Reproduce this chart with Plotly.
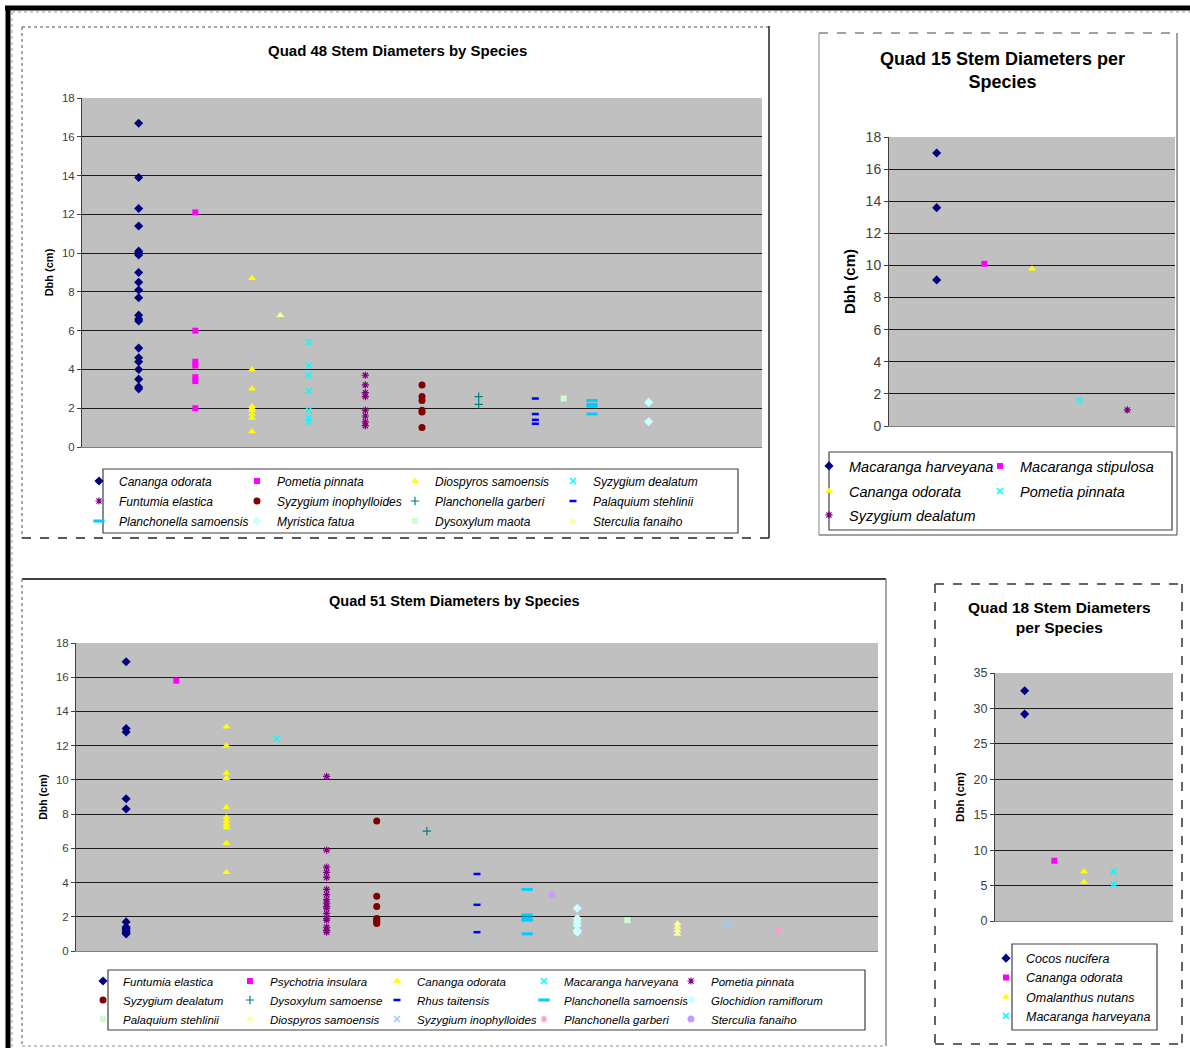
import plotly.graph_objects as go

W, H = 1190, 1048
FONT = "Liberation Sans, Arial, sans-serif"

# ---------------- data ----------------
# Quad 48
q48_species = ["Cananga odorata", "Pometia pinnata", "Diospyros samoensis", "Syzygium dealatum",
               "Funtumia elastica", "Syzygium inophylloides", "Planchonella garberi", "Palaquium stehlinii",
               "Planchonella samoensis", "Myristica fatua", "Dysoxylum maota", "Sterculia fanaiho"]
q48_x = [1, 2, 3, 4, 5, 6, 7, 8, 9, 10, 8.5, 3.5]
q48_dbh = [
    [16.7, 13.9, 12.3, 11.4, 10.1, 10.0, 9.9, 9.0, 8.5, 8.1, 7.7, 6.8, 6.6, 6.5, 5.1, 4.6, 4.4, 4.0, 3.5, 3.1, 3.0],
    [12.1, 6.0, 4.4, 4.2, 3.6, 3.4, 2.0],
    [8.7, 4.0, 3.0, 2.1, 2.0, 1.9, 1.7, 1.5, 0.8],
    [5.4, 4.2, 3.7, 2.9, 1.9, 1.5, 1.3],
    [3.7, 3.2, 2.8, 2.6, 1.9, 1.6, 1.3, 1.1],
    [3.2, 2.6, 2.4, 1.9, 1.8, 1.0],
    [2.6, 2.2],
    [2.5, 1.7, 1.4, 1.2],
    [2.4, 2.2, 2.1, 1.7],
    [2.3, 1.3],
    [2.5],
    [6.8],
]

# Quad 15
q15_species = ["Macaranga harveyana", "Macaranga stipulosa", "Cananga odorata", "Pometia pinnata",
               "Syzygium dealatum"]
q15_x = [1, 2, 3, 4, 5]
q15_dbh = [[17.0, 13.6, 9.1], [10.1], [9.8], [1.6], [1.0]]

# Quad 51
q51_species = ["Funtumia elastica", "Psychotria insulara", "Cananga odorata", "Macaranga harveyana",
               "Pometia pinnata", "Syzygium dealatum", "Dysoxylum samoense", "Rhus taitensis",
               "Planchonella samoensis", "Glochidion ramiflorum", "Palaquium stehlinii", "Diospyros samoensis",
               "Syzygium inophylloides", "Planchonella garberi", "Sterculia fanaiho"]
q51_x = [1, 2, 3, 4, 5, 6, 7, 8, 9, 10, 11, 12, 13, 14, 9.5]
q51_dbh = [
    [16.9, 13.0, 12.8, 8.9, 8.3, 1.7, 1.4, 1.3, 1.2, 1.1, 1.0],
    [15.8],
    [13.1, 12.0, 10.4, 10.1, 8.4, 7.8, 7.6, 7.4, 7.2, 6.3, 4.6],
    [12.4],
    [10.2, 5.9, 4.9, 4.6, 4.3, 3.6, 3.3, 3.0, 2.8, 2.6, 2.5, 2.2, 1.9, 1.8, 1.4, 1.2, 1.1],
    [7.6, 3.2, 2.6, 1.9, 1.8, 1.7, 1.6],
    [7.0],
    [4.5, 2.7, 1.1],
    [3.6, 2.1, 1.9, 1.8, 1.0],
    [2.5, 1.9, 1.7, 1.5, 1.2, 1.1],
    [1.8],
    [1.6, 1.4, 1.2, 1.0],
    [1.6],
    [1.2],
    [3.3],
]

# Quad 18
q18_species = ["Cocos nucifera", "Cananga odorata", "Omalanthus nutans", "Macaranga harveyana"]
q18_x = [1, 2, 3, 4]
q18_dbh = [[32.5, 29.2], [8.5], [7.0, 5.5], [7.0, 5.2]]

# ---------------- styles (Excel default series order) ----------------
COLORS = ["#000080", "#FF00FF", "#FFFF00", "#00FFFF", "#800080", "#800000", "#008080", "#0000FF",
          "#00CCFF", "#CCFFFF", "#CCFFCC", "#FFFF99", "#99CCFF", "#FF99CC", "#CC99FF"]
SYMBOLS = ["diamond", "square", "triangle-up", "x-thin-open", "asterisk-open", "circle", "cross-thin-open",
           "line-ew-open", "line-ew-open", "diamond", "square", "triangle-up", "x-thin-open", "asterisk-open",
           "circle"]
SIZES = [7, 6, 7, 6, 6, 7, 6, 5, 8, 7, 6, 7, 6, 6, 7]
LWIDTH = [0, 0, 0, 1.5, 1.2, 0, 1.2, 2.5, 3, 0, 0, 0, 1.5, 1.2, 0]


def px(x):
    return x / W


def py(y):
    return 1 - y / H


fig = go.Figure()

# panel definitions: (axis suffix, plot rect px, xmax, ymax, dtick, species, xs, data, tick font, axis-title font)
panels = [
    ("", (82, 98, 762, 447), 12, 18, 2, q48_species, q48_x, q48_dbh, 11.5, 11),
    ("2", (889, 137, 1175, 426), 6, 18, 2, q15_species, q15_x, q15_dbh, 14, 15),
    ("3", (76, 643, 878, 951), 16, 18, 2, q51_species, q51_x, q51_dbh, 11.5, 10.5),
    ("4", (995, 673, 1173, 921), 6, 35, 5, q18_species, q18_x, q18_dbh, 12.5, 11.5),
]

legend_rows = [
    [("legend", [0, 1, 2, 3]), ("legend2", [4, 5, 6, 7]), ("legend3", [8, 9, 10, 11])],
    [("legend4", [0, 1]), ("legend5", [2, 3]), ("legend6", [4])],
    [("legend7", [0, 1, 2, 3, 4]), ("legend8", [5, 6, 7, 8, 9]), ("legend9", [10, 11, 12, 13, 14])],
    [("legend10", [0, 1, 2, 3])],
]

# legends: name -> (text-start x px, center y px, entrywidth, font size)
leg_specs = {
    "legend": (121, 481, 113, 12), "legend2": (121, 501, 113, 12), "legend3": (121, 521, 113, 12),
    "legend4": (851, 466, 126, 14.5), "legend5": (851, 491, 126, 14.5), "legend6": (851, 515, 126, 14.5),
    "legend7": (125, 981, 102, 11.5), "legend8": (125, 1000, 102, 11.5), "legend9": (125, 1019, 102, 11.5),
}

layout_axes = {}
for pi, (sfx, rect_, xmax, ymax, dtick, species, xs, data, tfs, afs) in enumerate(panels):
    x0, y0, x1, y1 = rect_
    xa = "x" + sfx
    ya = "y" + sfx
    leg_of = {}
    width_of = {}
    for lname, idxs in legend_rows[pi]:
        for k, i in enumerate(idxs):
            leg_of[i] = lname
            if lname in leg_specs:
                width_of[i] = leg_specs[lname][2] if k < len(idxs) - 1 else 170
    for i, name in enumerate(species):
        extra = {}
        if i in width_of:
            extra["legendwidth"] = width_of[i]
        fig.add_trace(go.Scatter(
            x=[xs[i]] * len(data[i]), y=data[i], mode="markers", name=name,
            xaxis=xa, yaxis=ya, legend=leg_of[i],
            marker=dict(symbol=SYMBOLS[i], color=COLORS[i], size=SIZES[i],
                        line=dict(width=LWIDTH[i], color=COLORS[i])),
            hoverinfo="x+y+name", **extra,
        ))
    layout_axes["xaxis" + sfx] = dict(
        domain=[px(x0), px(x1)], range=[0, xmax], anchor=ya, showticklabels=False,
        showgrid=False, zeroline=False, showline=True, linecolor="#808080", linewidth=1,
        ticks="", fixedrange=True, automargin=False)
    layout_axes["yaxis" + sfx] = dict(
        domain=[py(y1), py(y0)], range=[0, ymax], anchor=xa, dtick=dtick, tick0=0,
        showgrid=True, gridcolor="#1a1a1a", gridwidth=1, zeroline=False,
        showline=True, linecolor="#404040", linewidth=1, ticks="outside", ticklen=4,
        tickcolor="#404040", tickfont=dict(family=FONT, size=tfs, color="#404040"),
        title=dict(text="<b>Dbh (cm)</b>", font=dict(family=FONT, size=afs, color="#000000"), standoff=6),
        fixedrange=True, automargin=False)

for lname, (tx, cy, ew, fs) in leg_specs.items():
    layout_axes[lname] = dict(
        x=px(tx - 42), y=py(cy), xanchor="left", yanchor="middle", orientation="h",
        entrywidth=ew, entrywidthmode="pixels", bgcolor="rgba(0,0,0,0)", borderwidth=0,
        font=dict(family=FONT, size=fs, color="#000000", style="italic"),
        itemclick=False, itemdoubleclick=False, tracegroupgap=0)
layout_axes["legend10"] = dict(
    x=px(1028 - 42), y=py(987), xanchor="left", yanchor="middle", orientation="v",
    bgcolor="rgba(0,0,0,0)", borderwidth=0, tracegroupgap=0,
    font=dict(family=FONT, size=12.5, color="#000000", style="italic"),
    itemclick=False, itemdoubleclick=False)

# ---------------- frames & boxes ----------------
shapes = []


def line(x0, y0, x1, y1, color, width, dash="solid"):
    shapes.append(dict(type="line", xref="paper", yref="paper", x0=px(x0), y0=py(y0), x1=px(x1), y1=py(y1),
                       line=dict(color=color, width=width, dash=dash), layer="above"))


def rect(x0, y0, x1, y1, color, width):
    shapes.append(dict(type="rect", xref="paper", yref="paper", x0=px(x0), y0=py(y0), x1=px(x1), y1=py(y1),
                       line=dict(color=color, width=width), fillcolor="rgba(0,0,0,0)", layer="above"))


# outer frame
line(5, 8, 1190, 8, "#000000", 5)
line(8, 6, 8, 1048, "#000000", 5)
line(12, 12, 1190, 12, "#9a9a9a", 1, "dot")
line(12, 12, 12, 1048, "#9a9a9a", 1, "dot")

# panel 1 box
line(22, 27, 769, 27, "#8a8a8a", 1.5, "dot")
line(22, 27, 22, 538, "#8a8a8a", 1.5, "dot")
line(769, 26, 769, 538, "#222222", 1.5)
line(22, 538, 769, 538, "#222222", 1.5, "dash")
# panel 2 box
line(819, 33, 1177, 33, "#444444", 1, "dash")
line(819, 33, 819, 535, "#888888", 1)
line(1177, 33, 1177, 535, "#444444", 1)
line(819, 535, 1177, 535, "#444444", 1)
# panel 3 box
line(22, 579, 886, 579, "#000000", 1.5)
line(22, 579, 22, 1046, "#8a8a8a", 1.5, "dot")
line(886, 579, 886, 1046, "#888888", 1.5)
line(22, 1046, 886, 1046, "#8a8a8a", 1, "dot")
# panel 4 box
line(935, 584, 1182, 584, "#333333", 1.5, "dash")
line(935, 584, 935, 1044, "#333333", 1.5, "dash")
line(1182, 584, 1182, 1044, "#333333", 1.5, "dash")
line(935, 1044, 1182, 1044, "#333333", 1.5, "dash")

# legend boxes
rect(103, 469, 738, 533, "#404040", 1.2)
rect(829, 452, 1172, 530, "#404040", 1.2)
rect(108, 970, 865, 1030, "#404040", 1.2)
rect(1012, 944, 1157, 1030, "#404040", 1.2)

# ---------------- titles ----------------
annotations = []


def title(text, x, y, size):
    annotations.append(dict(text=text, x=px(x), y=py(y), xref="paper", yref="paper", showarrow=False,
                            xanchor="center", yanchor="middle",
                            font=dict(family=FONT, size=size, color="#000000")))


title("<b>Quad 48 Stem Diameters by Species</b>", 397, 51, 15)
title("<b>Quad 15 Stem Diameters per<br>Species</b>", 1002, 71, 18)
title("<b>Quad 51 Stem Diameters by Species</b>", 454, 601, 14.5)
title("<b>Quad 18 Stem Diameters<br>per Species</b>", 1059, 617, 15.5)

fig.update_layout(
    width=W, height=H, margin=dict(l=0, r=0, t=0, b=0, pad=0, autoexpand=False), autosize=False,
    paper_bgcolor="#FFFFFF", plot_bgcolor="#C0C0C0",
    font=dict(family=FONT, size=11, color="#000000"),
    shapes=shapes, annotations=annotations, showlegend=True,
    **layout_axes,
)

fig.write_html(
    "out.html",
    config={"displayModeBar": False, "responsive": False},
    post_script=("var d=document.getElementById('{plot_id}');"
                 "document.body.style.margin='0';document.body.style.overflow='hidden';"
                 "d.style.position='fixed';d.style.left='0px';d.style.top='0px';"),
)
